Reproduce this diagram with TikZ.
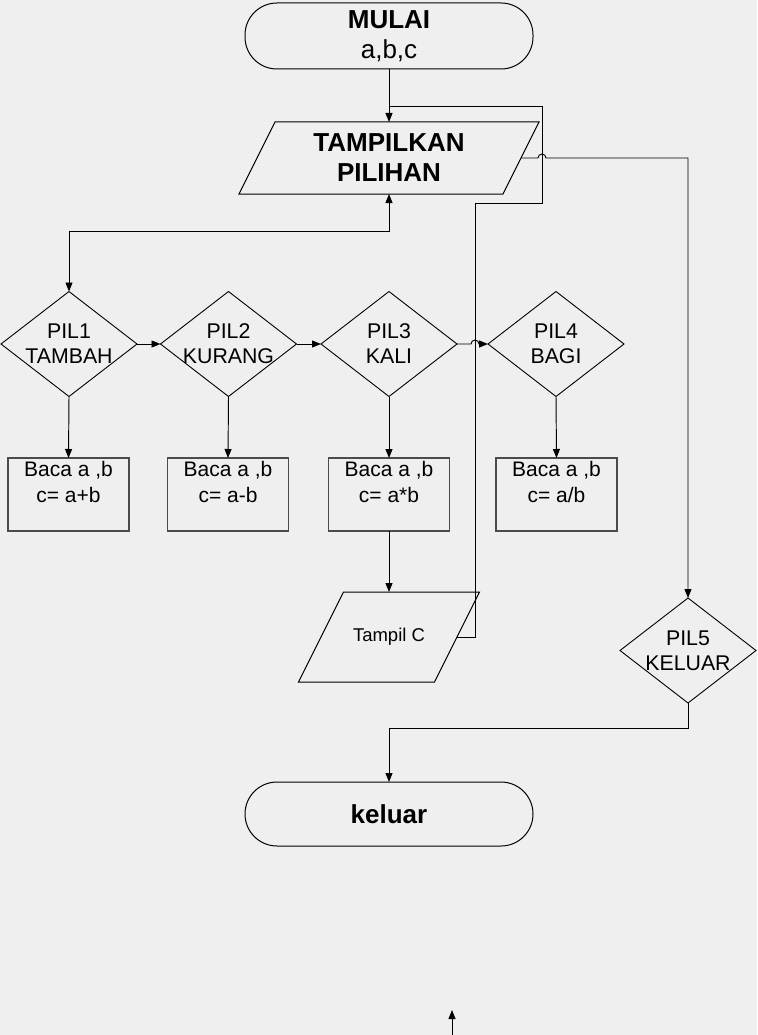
\documentclass[tikz,border=0pt]{standalone}
\usepackage{fontspec}
\setmainfont{Liberation Sans}
\usetikzlibrary{arrows.meta,shapes.geometric}
\definecolor{bgc}{RGB}{239,239,239}
\definecolor{boxc}{RGB}{75,75,75}
\begin{document}
\begin{tikzpicture}[x=1pt,y=-1pt,
  every node/.style={inner sep=0pt,outer sep=0pt},
  term/.style={draw,line width=1pt,rounded corners=32pt,minimum width=288pt,minimum height=66pt,align=center,font=\fontsize{26}{30}\selectfont},
  io/.style={align=center},
  dia/.style={draw,diamond,line width=0.9pt,minimum width=136pt,minimum height=105pt},
  lbl/.style={align=center,font=\fontsize{21.3}{25}\selectfont},
  boxs/.style={draw=boxc,line width=1.7pt,minimum width=121pt,minimum height=73pt},
  shp/.style={line width=1pt,line join=miter},
  wire/.style={line width=0.95pt},
  arr/.style={line width=0.95pt,-{Triangle[length=9pt,width=7pt]}},
  darr/.style={line width=0.95pt,{Triangle[length=9pt,width=7pt]}-{Triangle[length=9pt,width=7pt]}}
]
\fill[bgc] (0,0) rectangle (757,1035);
\useasboundingbox (0,0) rectangle (757,1035);

% start
\node[term] (mulai) at (389,36) {{\bfseries MULAI}\\a,b,c};

% display choices
\node[io,minimum width=264pt,minimum height=72pt,font=\bfseries\fontsize{26}{30}\selectfont] (tp) at (389,158) {TAMPILKAN\\PILIHAN};
\draw[shp] ([xshift=18pt]tp.north west) -- ([xshift=18pt]tp.north east) -- ([xshift=-18pt]tp.south east) -- ([xshift=-18pt]tp.south west) -- cycle;

% decisions
\node[dia] (p1) at (69,344) {};
\node[dia] (p2) at (228.5,344) {};
\node[dia] (p3) at (389,344) {};
\node[dia] (p4) at (556,344) {};
\node[lbl] (p1t) at (p1.center) {PIL1\\TAMBAH};
\node[lbl] (p2t) at (p2.center) {PIL2\\KURANG};
\node[lbl] (p3t) at (p3.center) {PIL3\\KALI};
\node[lbl] (p4t) at (p4.center) {PIL4\\BAGI};

% process boxes
\node[boxs] (b1) at (68.5,494.5) {};
\node[boxs] (b2) at (228,494.5) {};
\node[boxs] (b3) at (389,494.5) {};
\node[boxs] (b4) at (556.5,494.5) {};
\node[lbl,font=\fontsize{21}{26}\selectfont] (b1t) at (68.5,482) {Baca a ,b\\c= a+b};
\node[lbl,font=\fontsize{21}{26}\selectfont] (b2t) at (228,482) {Baca a ,b\\c= a-b};
\node[lbl,font=\fontsize{21}{26}\selectfont] (b3t) at (389,482) {Baca a ,b\\c= a*b};
\node[lbl,font=\fontsize{21}{26}\selectfont] (b4t) at (556.5,482) {Baca a ,b\\c= a/b};

% output C
\node[io,minimum width=136pt,minimum height=90pt,font=\fontsize{18.5}{22}\selectfont] (tc) at (389,637) {Tampil C};
\draw[shp] ([xshift=22.5pt]tc.north west) -- ([xshift=22.5pt]tc.north east) -- ([xshift=-22.5pt]tc.south east) -- ([xshift=-22.5pt]tc.south west) -- cycle;

% exit decision
\node[dia] (p5) at (688,650.5) {};
\node[lbl] (p5t) at (p5.center) {PIL5\\KELUAR};

% end
\node[term,minimum height=64pt,font=\bfseries\fontsize{26}{30}\selectfont] (kel) at (389,814) {keluar};

% connectors
\coordinate (l1) at (475,203);
\coordinate (l2) at (542,106);
\coordinate (k1) at (389,231);
\coordinate (k2) at (389,728);
\coordinate (h1) at (538,158);
\coordinate (h2) at (471,344);
\coordinate (z0) at (452,1035);
\coordinate (z1) at (452,1010);

\draw[arr] (mulai.south) -- (tp.north);
\draw[wire] (tc.east) -| (l1) -| (l2) -- (l2 -| tp.north);
\draw[arr] (tp.east) -- (h1) arc[start angle=180,end angle=0,radius=4pt] -| (p5.north);
\draw[darr] (tp.south) -- (k1) -| (p1.north);
\draw[arr] (p1.east) -- (p2.west);
\draw[arr] (p2.east) -- (p3.west);
\draw[arr] (p3.east) -- (h2) arc[start angle=180,end angle=0,radius=4pt] -- (p4.west);
\draw[arr] (p1.south) -- (b1.north);
\draw[arr] (p2.south) -- (b2.north);
\draw[arr] (p3.south) -- (b3.north);
\draw[arr] (p4.south) -- (b4.north);
\draw[arr] (b3.south) -- (tc.north);
\draw[arr] (p5.south) |- (k2) -- (kel.north);
\draw[arr] (z0) -- (z1);
\end{tikzpicture}
\end{document}
